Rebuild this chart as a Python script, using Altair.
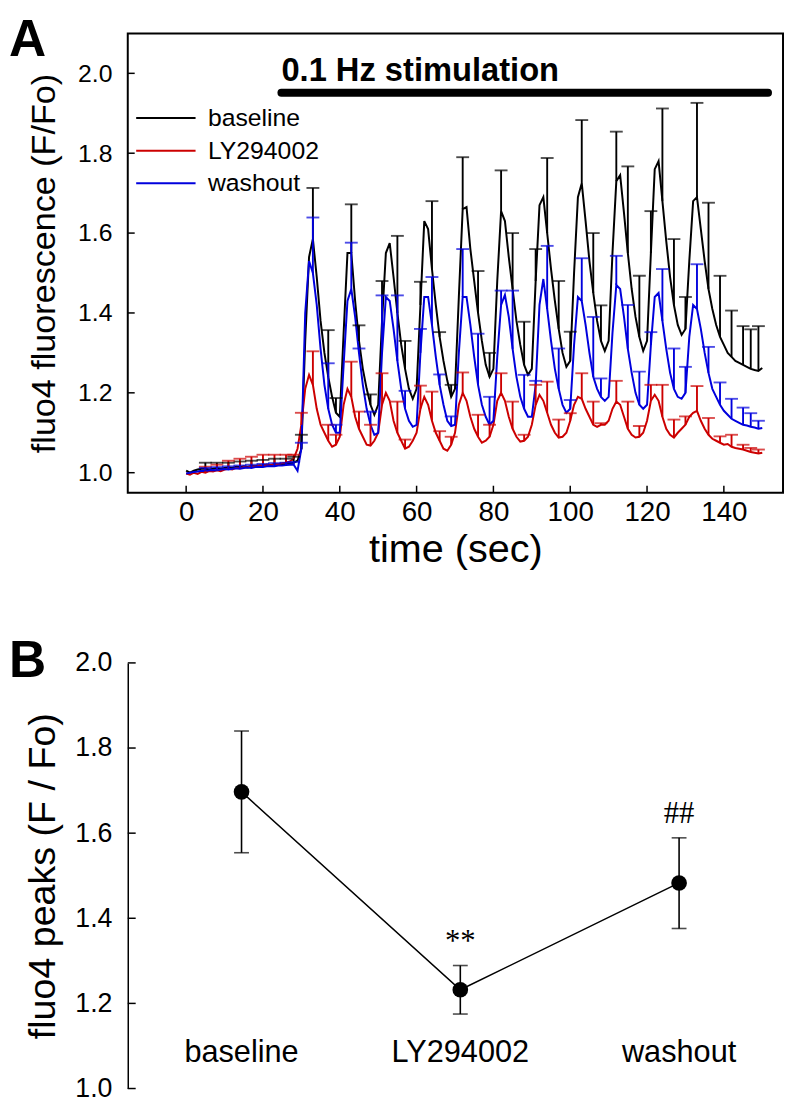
import altair as alt
import pandas as pd

# ---------------- Panel A data (fluo4 F/Fo traces, 1 s sampling) ----------------
TIME = list(range(151))

BASELINE = [
    1.005, 1.000, 1.005, 1.008, 1.010, 1.010, 1.008, 1.010, 1.012, 1.010,
    1.012, 1.013, 1.012, 1.015, 1.014, 1.016, 1.015, 1.017, 1.016, 1.018,
    1.018, 1.020, 1.019, 1.021, 1.020, 1.022, 1.022, 1.024, 1.025, 1.030,
    1.06, 1.33, 1.54, 1.585, 1.49, 1.38, 1.30, 1.24, 1.19, 1.15,
    1.14, 1.35, 1.55, 1.55, 1.43, 1.33, 1.26, 1.21, 1.17, 1.145,
    1.17, 1.38, 1.55, 1.575, 1.49, 1.40, 1.32, 1.26, 1.21, 1.185,
    1.21, 1.42, 1.63, 1.61, 1.51, 1.42, 1.34, 1.28, 1.23, 1.19,
    1.21, 1.44, 1.66, 1.665, 1.56, 1.48, 1.40, 1.33, 1.27, 1.24,
    1.26, 1.48, 1.655, 1.63, 1.54, 1.46, 1.38, 1.32, 1.27, 1.245,
    1.26, 1.48, 1.67, 1.69, 1.60, 1.51, 1.43, 1.36, 1.30, 1.265,
    1.28, 1.50, 1.69, 1.725, 1.63, 1.53, 1.45, 1.38, 1.33, 1.305,
    1.33, 1.55, 1.73, 1.745, 1.65, 1.55, 1.46, 1.39, 1.34, 1.305,
    1.33, 1.55, 1.76, 1.78, 1.68, 1.58, 1.49, 1.42, 1.37, 1.345,
    1.36, 1.53, 1.68, 1.69, 1.61, 1.53, 1.46, 1.41, 1.37, 1.34,
    1.32, 1.30, 1.29, 1.28, 1.275, 1.27, 1.265, 1.26, 1.257, 1.255, 1.262,
]

LY294002 = [
    0.998, 0.995, 1.000, 0.997, 1.002, 1.000, 1.004, 1.003, 1.006, 1.004,
    1.008, 1.010, 1.008, 1.012, 1.011, 1.014, 1.013, 1.016, 1.015, 1.018,
    1.017, 1.020, 1.019, 1.022, 1.021, 1.024, 1.025, 1.028, 1.035, 1.06,
    1.12, 1.21, 1.245, 1.22, 1.16, 1.12, 1.10, 1.08, 1.065, 1.07,
    1.09, 1.17, 1.21, 1.19, 1.14, 1.11, 1.09, 1.07, 1.068, 1.08,
    1.10, 1.17, 1.20, 1.18, 1.13, 1.10, 1.08, 1.06, 1.065, 1.08,
    1.10, 1.16, 1.19, 1.17, 1.13, 1.10, 1.08, 1.06, 1.055, 1.07,
    1.10, 1.17, 1.20, 1.18, 1.14, 1.11, 1.09, 1.075, 1.08, 1.09,
    1.12, 1.18, 1.20, 1.18, 1.14, 1.11, 1.09, 1.078, 1.08, 1.09,
    1.12, 1.17, 1.195, 1.18, 1.15, 1.12, 1.10, 1.088, 1.09, 1.10,
    1.13, 1.17, 1.19, 1.185, 1.16, 1.14, 1.12, 1.115, 1.12, 1.12,
    1.13, 1.16, 1.178, 1.17, 1.14, 1.11, 1.095, 1.088, 1.09, 1.10,
    1.13, 1.18, 1.195, 1.18, 1.14, 1.11, 1.095, 1.088, 1.10, 1.11,
    1.12, 1.14, 1.15, 1.155, 1.13, 1.11, 1.095, 1.085, 1.08, 1.075,
    1.07, 1.072, 1.065, 1.062, 1.06, 1.058, 1.055, 1.052, 1.05, 1.048, 1.05,
]

WASHOUT = [
    0.998, 1.000, 1.002, 1.003, 1.005, 1.004, 1.006, 1.007, 1.006, 1.008,
    1.009, 1.008, 1.010, 1.011, 1.010, 1.012, 1.013, 1.012, 1.014, 1.015,
    1.014, 1.016, 1.017, 1.016, 1.018, 1.018, 1.019, 1.020, 1.020, 1.005,
    1.06, 1.40, 1.53, 1.50, 1.42, 1.31, 1.22, 1.16, 1.12, 1.10,
    1.10, 1.27, 1.43, 1.46, 1.39, 1.30, 1.22, 1.16, 1.12, 1.095,
    1.10, 1.30, 1.44, 1.43, 1.36, 1.28, 1.21, 1.16, 1.13, 1.115,
    1.12, 1.30, 1.44, 1.44, 1.37, 1.29, 1.22, 1.17, 1.13, 1.117,
    1.12, 1.30, 1.44, 1.44, 1.37, 1.29, 1.22, 1.17, 1.14, 1.12,
    1.13, 1.29, 1.42, 1.445, 1.39, 1.31, 1.24, 1.19, 1.16, 1.14,
    1.14, 1.22, 1.42, 1.485, 1.41, 1.33, 1.26, 1.21, 1.17, 1.15,
    1.16, 1.32, 1.44, 1.43, 1.37, 1.30, 1.24, 1.21, 1.19, 1.18,
    1.19, 1.35, 1.47, 1.46, 1.39, 1.31, 1.25, 1.20, 1.17, 1.16,
    1.17, 1.32, 1.44, 1.45, 1.38, 1.31, 1.25, 1.21, 1.19, 1.185,
    1.20, 1.34, 1.42, 1.41, 1.36, 1.30, 1.25, 1.21, 1.19, 1.17,
    1.155, 1.145, 1.135, 1.13, 1.125, 1.12, 1.118, 1.115, 1.113, 1.11, 1.112,
]

# times (s) at which SEM error bars are drawn, and the top of each bar
ERR_T = [5, 8, 11, 14, 17, 20, 23, 26, 28, 30, 33, 37, 39, 43, 45, 48, 51, 55, 57, 61,
         64, 66, 69, 72, 76, 79, 82, 85, 88, 91, 94, 97, 100, 103, 106, 108, 112, 115, 118,
         121, 124, 127, 130, 133, 136, 139, 142, 145, 147, 149]

BASELINE_TOP = [1.025, 1.025, 1.025, 1.028, 1.03, 1.032, 1.035, 1.035, 1.04,
                1.095, 1.713, 1.357, 1.187, 1.672, 1.369, 1.196, 1.48, 1.593, 1.33, 1.478,
                1.68, 1.352, 1.22, 1.79, 1.505, 1.30, 1.757, 1.60, 1.378, 1.56, 1.788, 1.48,
                1.353, 1.883, 1.60, 1.419, 1.854, 1.767, 1.493, 1.655, 1.912, 1.585, 1.44,
                1.926, 1.676, 1.493, 1.406, 1.367, 1.359, 1.367]

LY294002_TOP = [1.015, 1.02, 1.03, 1.035, 1.04, 1.045, 1.045, 1.045, 1.045,
                1.15, 1.304, 1.12, 1.095, 1.278, 1.153, 1.12, 1.249, 1.178, 1.083, 1.218,
                1.203, 1.104, 1.09, 1.251, 1.145, 1.12, 1.249, 1.178, 1.095, 1.22, 1.228,
                1.133, 1.149, 1.249, 1.178, 1.124, 1.23, 1.178, 1.117, 1.22, 1.22, 1.133,
                1.141, 1.217, 1.137, 1.091, 1.095, 1.07, 1.062, 1.058]

WASHOUT_TOP = [1.012, 1.014, 1.016, 1.018, 1.02, 1.022, 1.024, 1.025, 1.027,
               1.075, 1.639, 1.274, 1.12, 1.576, 1.311, 1.153, 1.444, 1.444, 1.205, 1.36,
               1.49, 1.246, 1.141, 1.56, 1.348, 1.19, 1.456, 1.456, 1.245, 1.23, 1.568,
               1.311, 1.182, 1.537, 1.39, 1.236, 1.543, 1.42, 1.253, 1.352, 1.51, 1.311,
               1.265, 1.522, 1.315, 1.226, 1.185, 1.163, 1.149, 1.13]

SERIES = ["baseline", "LY294002", "washout"]
COLORS = ["#000000", "#cc0000", "#0000dd"]
STIM_START = 24.8
STIM_END = 151.5
STIM_LABEL = "0.1 Hz stimulation"
X_TICKS = [0, 20, 40, 60, 80, 100, 120, 140]
Y_TICKS = [1.0, 1.2, 1.4, 1.6, 1.8, 2.0]

# ---------------- Panel B data (peak amplitudes) ----------------
CONDITIONS = ["baseline", "LY294002", "washout"]
COND_INDEX = [0, 1, 2]
PEAK_MEAN = [1.697, 1.232, 1.483]
PEAK_LO = [1.554, 1.175, 1.376]
PEAK_HI = [1.840, 1.289, 1.589]
SIG = ["", "**", "##"]

FONT = "Liberation Sans"

# ---------------- build tables ----------------
traces = {"baseline": BASELINE, "LY294002": LY294002, "washout": WASHOUT}
tops = {"baseline": BASELINE_TOP, "LY294002": LY294002_TOP, "washout": WASHOUT_TOP}

trace_rows = []
for s in SERIES:
    for t, v in zip(TIME, traces[s]):
        trace_rows.append({"time": t, "value": v, "series": s})
trace_df = pd.DataFrame(trace_rows)

err_rows = []
for s in SERIES:
    for t, top in zip(ERR_T, tops[s]):
        err_rows.append({"time": t, "base": traces[s][TIME.index(t)], "top": top, "series": s})
err_df = pd.DataFrame(err_rows)

stim_df = pd.DataFrame({"start": [STIM_START], "end": [STIM_END], "label": [STIM_LABEL]})
ytick_df = pd.DataFrame({"v": Y_TICKS})
xtick_df = pd.DataFrame({"t": X_TICKS})

peak_df = pd.DataFrame({"idx": COND_INDEX, "cond": CONDITIONS, "mean": PEAK_MEAN,
                        "lo": PEAK_LO, "hi": PEAK_HI, "sig": SIG})

# ---------------- Panel A ----------------
WA, HA = 662, 464
xs = alt.Scale(domain=[-15.2, 155.4], nice=False, zero=False)
ys = alt.Scale(domain=[0.95, 2.1], nice=False, zero=False)
cscale = alt.Scale(domain=SERIES, range=COLORS)

legend = alt.Legend(orient="none", legendX=26, legendY=73, title=None,
                    symbolType="M-3,0H3", symbolSize=400, symbolStrokeWidth=2,
                    labelFont=FONT, labelFontSize=25, labelColor="black",
                    labelOffset=30, rowPadding=7, padding=0)

x_axis = alt.Axis(values=X_TICKS, ticks=False, tickSize=0, domain=False, grid=False,
                  labelFont=FONT, labelFontSize=28, labelPadding=6, labelFlush=False,
                  title="time (sec)", titleFont=FONT, titleFontSize=40,
                  titleFontWeight="normal", titleY=70, titleBaseline="alphabetic")
y_axis = alt.Axis(values=Y_TICKS, format=".1f", ticks=False, tickSize=0, domain=False,
                  grid=False, labelFont=FONT, labelFontSize=25, labelPadding=16,
                  title="fluo4 fluorescence (F/Fo)", titleFont=FONT, titleFontSize=34.5,
                  titleFontWeight="normal", titleX=-74, titleBaseline="alphabetic")

lines = alt.Chart(trace_df).mark_line(strokeWidth=2).encode(
    x=alt.X("time:Q", scale=xs, axis=x_axis),
    y=alt.Y("value:Q", scale=ys, axis=y_axis),
    color=alt.Color("series:N", scale=cscale, legend=legend),
)
err_rules = alt.Chart(err_df).mark_rule(strokeWidth=1.9).encode(
    x=alt.X("time:Q", scale=xs),
    y=alt.Y("base:Q", scale=ys),
    y2="top:Q",
    color=alt.Color("series:N", scale=cscale, legend=None),
)
err_caps = alt.Chart(err_df).mark_tick(orient="horizontal", size=13, thickness=1.9).encode(
    x=alt.X("time:Q", scale=xs),
    y=alt.Y("top:Q", scale=ys),
    color=alt.Color("series:N", scale=cscale, legend=None),
)
stim_bar = alt.Chart(stim_df).mark_rule(strokeWidth=8, strokeCap="round", color="black").encode(
    x=alt.X("start:Q", scale=xs), x2="end:Q", y=alt.value(60)
)
stim_text = alt.Chart(stim_df).mark_text(align="left", baseline="alphabetic", font=FONT,
                                         fontSize=33, fontWeight="bold", color="black").encode(
    x=alt.X("start:Q", scale=xs), y=alt.value(48), text="label:N"
)
yticks_a = alt.Chart(ytick_df).mark_rule(color="black", strokeWidth=1.5).encode(
    y=alt.Y("v:Q", scale=ys), x=alt.value(0), x2=alt.value(7)
)
xticks_a = alt.Chart(xtick_df).mark_rule(color="black", strokeWidth=1.5).encode(
    x=alt.X("t:Q", scale=xs), y=alt.value(HA), y2=alt.value(HA - 7)
)

panel_a = alt.layer(lines, err_rules, err_caps, stim_bar, stim_text, yticks_a, xticks_a).properties(
    width=WA, height=HA,
    title=alt.TitleParams(text="A", anchor="start", frame="group", font=FONT, fontSize=52,
                          fontWeight="bold", color="black", offset=0, dx=-120, dy=75,
                          baseline="alphabetic"),
    view=alt.ViewBackground(stroke="black", strokeWidth=2),
)

# ---------------- Panel B ----------------
WB, HB = 662, 430
bx = alt.Scale(domain=[-0.52, 2.475], nice=False, zero=False)
by = alt.Scale(domain=[1.0, 2.0], nice=False, zero=False)

yb_axis = alt.Axis(values=Y_TICKS, format=".1f", ticks=False, tickSize=0, domain=True,
                   domainColor="black", domainWidth=1.5, grid=False,
                   labelFont=FONT, labelFontSize=27, labelPadding=16,
                   title="fluo4 peaks (F / Fo)", titleFont=FONT, titleFontSize=38,
                   titleFontWeight="normal", titleX=-74, titleBaseline="alphabetic")

b_line = alt.Chart(peak_df).mark_line(color="black", strokeWidth=1.5).encode(
    x=alt.X("idx:Q", scale=bx, axis=None),
    y=alt.Y("mean:Q", scale=by, axis=yb_axis),
)
b_err = alt.Chart(peak_df).mark_rule(color="black", strokeWidth=1.6).encode(
    x=alt.X("idx:Q", scale=bx, axis=None), y=alt.Y("lo:Q", scale=by), y2="hi:Q"
)
b_cap_hi = alt.Chart(peak_df).mark_tick(orient="horizontal", size=15, thickness=1.6, color="black").encode(
    x=alt.X("idx:Q", scale=bx, axis=None), y=alt.Y("hi:Q", scale=by)
)
b_cap_lo = alt.Chart(peak_df).mark_tick(orient="horizontal", size=15, thickness=1.6, color="black").encode(
    x=alt.X("idx:Q", scale=bx, axis=None), y=alt.Y("lo:Q", scale=by)
)
b_pts = alt.Chart(peak_df).mark_circle(size=250, opacity=1, color="black").encode(
    x=alt.X("idx:Q", scale=bx, axis=None), y=alt.Y("mean:Q", scale=by)
)
b_sig = alt.Chart(peak_df).mark_text(font="Liberation Serif", fontSize=31, baseline="middle",
                                     dy=-24, color="black").encode(
    x=alt.X("idx:Q", scale=bx, axis=None), y=alt.Y("hi:Q", scale=by), text="sig:N"
)
b_labels = alt.Chart(peak_df).mark_text(font=FONT, fontSize=31, baseline="middle",
                                        color="black").encode(
    x=alt.X("idx:Q", scale=bx, axis=None), y=alt.value(394), text="cond:N"
)
yticks_b = alt.Chart(ytick_df).mark_rule(color="black", strokeWidth=1.5).encode(
    y=alt.Y("v:Q", scale=by), x=alt.value(0), x2=alt.value(8)
)

panel_b = alt.layer(b_line, b_err, b_cap_hi, b_cap_lo, b_pts, b_sig, b_labels, yticks_b).properties(
    width=WB, height=HB,
    title=alt.TitleParams(text="B", anchor="start", frame="group", font=FONT, fontSize=52,
                          fontWeight="bold", color="black", offset=0, dx=-120, dy=80,
                          baseline="alphabetic"),
)

chart = alt.vconcat(panel_a, panel_b, spacing=172, bounds="flush").properties(
    padding={"left": 0, "top": 0, "right": 0, "bottom": 0},
    background="white",
).configure_view(stroke=None).configure_axis(
    labelColor="black", titleColor="black", grid=False
)

chart.save("out.html", embed_options={"renderer": "svg", "actions": False})
